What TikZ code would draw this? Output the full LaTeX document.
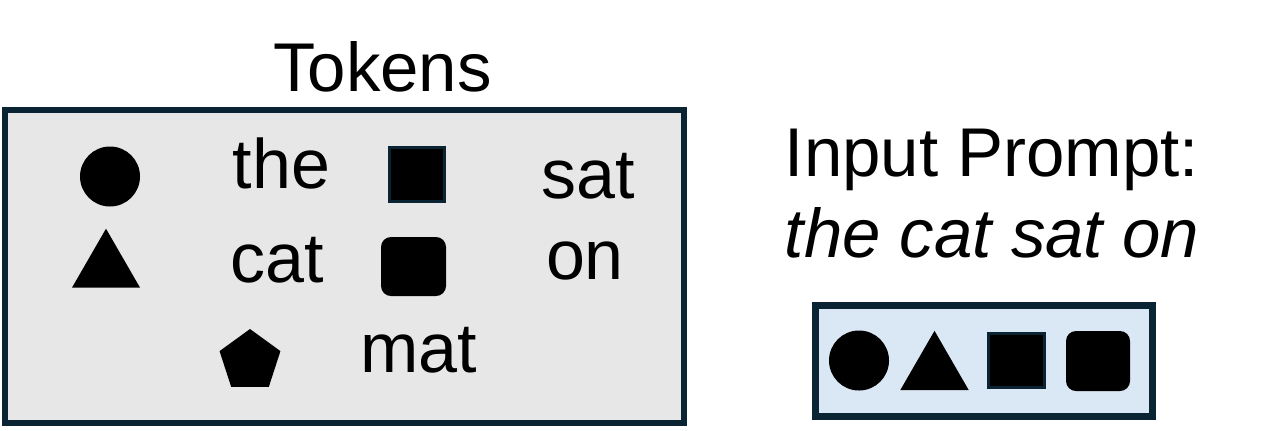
\documentclass[tikz,border=0pt]{standalone}
\usepackage{fontspec}
\setmainfont{Liberation Sans}
\usepackage{tikz}
\usetikzlibrary{shapes.geometric}
\usetikzlibrary{backgrounds}
\definecolor{navy}{RGB}{10,36,52}
\definecolor{tokgray}{RGB}{231,231,231}
\definecolor{promptblue}{RGB}{218,232,245}
\tikzstyle{vocab}=[
  x=0.5pt,y=-0.5pt,font=\fontsize{35}{40}\selectfont
]
\tikzstyle{word}=[
  anchor=base,inner sep=0pt
]
\tikzstyle{title}=[
  anchor=base,inner sep=0pt,font=\fontsize{34.5}{40}\selectfont
]
\tikzstyle{tokbox}=[
  draw=navy,fill=tokgray,line width=3pt,inner sep=0pt
]
\tikzstyle{promptbox}=[
  draw=navy,fill=promptblue,line width=3.5pt,inner sep=0pt
]
\tikzstyle{dot}=[
  circle,fill=black,inner sep=0pt,minimum size=30pt
]
\tikzstyle{tri}=[
  regular polygon,regular polygon sides=3,fill=black,inner sep=0pt,outer sep=0pt
]
\tikzstyle{penta}=[
  regular polygon,regular polygon sides=5,fill=black,inner sep=0pt,outer sep=0pt,minimum size=32pt
]
\tikzstyle{sq}=[
  rectangle,fill=black,draw=navy,line width=1.5pt,inner sep=0pt
]
\tikzstyle{rsq}=[
  rectangle,fill=black,rounded corners=5pt,inner sep=0pt
]
\begin{document}
\begin{tikzpicture}[vocab]
    \useasboundingbox (0,0) rectangle (1273,430);
    % token vocabulary
    \node (tokens) at (382.5,91) [title] {Tokens};
    \node (c1) at (110,176.5) [dot] {};
    \node (the) at (281.5,188) [word] {the};
    \node (s1) at (417,174.5) [sq,minimum width=27.5pt,minimum height=27pt] {};
    \node (sat) at (588,198) [word] {sat};
    \node (t1) at (106,268) [tri,minimum size=39.3pt] {};
    \node (cat) at (277,282) [word] {cat};
    \node (r1) at (413.5,266.5) [rsq,minimum width=32.5pt,minimum height=29.5pt] {};
    \node (on) at (585,279) [word] {on};
    \node (p1) at (250,361) [penta] {};
    \node (mat) at (418.5,372) [word] {mat};
    % prompt
    \node (inp) at (992,176) [title] {Input Prompt:};
    \node (txt) at (992,257) [title] {\itshape the cat sat on};
    \node (c2) at (859,360.5) [dot] {};
    \node (t2) at (934.5,370.3) [tri,minimum size=39.5pt] {};
    \node (s2) at (1016.5,360.5) [sq,minimum width=28pt,minimum height=27pt] {};
    \node (r2) at (1098,361) [rsq,minimum width=32pt,minimum height=30pt] {};
    \begin{scope}[on background layer]
      \node (vbox) at (344.25,266.25) [tokbox,minimum width=339.25pt,minimum height=156.25pt] {};
      \node (pbox) at (984,361) [promptbox,minimum width=168.5pt,minimum height=55.5pt] {};
    \end{scope}
\end{tikzpicture}
\end{document}
